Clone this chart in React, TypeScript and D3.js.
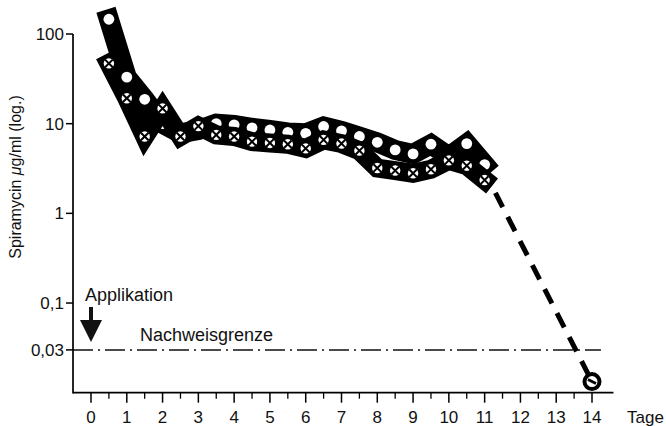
import * as d3 from 'd3';

// Sampling days (half-day steps after application)
const days = [0.5, 1, 1.5, 2, 2.5, 3, 3.5, 4, 4.5, 5, 5.5, 6, 6.5, 7, 7.5, 8, 8.5, 9, 9.5, 10, 10.5, 11];
// Spiramycin µg/ml, open circles (upper band)
const openVals = [146, 33, 18.7, 10, 7.8, 8.5, 10.0, 9.7, 9.0, 8.5, 8.0, 7.8, 9.3, 8.3, 7.2, 6.2, 5.1, 4.6, 5.9, 4.3, 6.0, 3.5];
// Spiramycin µg/ml, crossed circles (lower band)
const crossVals = [47, 19.2, 7.2, 14.8, 7.2, 9.4, 7.5, 7.2, 6.3, 6.1, 5.9, 5.3, 6.6, 6.0, 5.0, 3.2, 3.0, 2.8, 3.1, 3.9, 3.4, 2.35];
// extrapolated decline to the last measurement
const tailDays = [11.25, 14];
const tailVals = [1.85, 0.0133];

const xTicks = [0, 1, 2, 3, 4, 5, 6, 7, 8, 9, 10, 11, 12, 13, 14];
const xMinor = [0.5, 1.5, 2.5, 3.5, 4.5, 5.5, 6.5, 7.5, 8.5, 9.5, 10.5, 11.5, 12.5, 13.5];
const yTicks = [100, 10, 1, 0.1, 0.03];
const yTickLabels = ['100', '10', '1', '0,1', '0,03'];
const detectionLimit = 0.03;

const W = 666;
const H = 426;
const font = '"Liberation Sans", Arial, Helvetica, sans-serif';

export default function App() {
  const x = d3.scaleLinear().domain([0, 14]).range([91, 592]);
  const y = d3.scaleLog().domain([0.01, 100]).range([392.7, 34]);

  const axisLeft = 73;
  const axisBottom = y(0.01);
  const axisRight = x(14.6);

  const line = d3
    .line<[number, number]>()
    .x((d) => x(d[0]))
    .y((d) => y(d[1]));

  const openPts = days.map((d, i) => [d, openVals[i]] as [number, number]);
  const crossPts = days.map((d, i) => [d, crossVals[i]] as [number, number]);
  const tailPts = tailDays.map((d, i) => [d, tailVals[i]] as [number, number]);
  const last = tailPts[tailPts.length - 1];
  const cx = x(last[0]);
  const cy = y(last[1]);
  const ax = x(0);

  // the first open markers sit on top of the crossed band in the original
  const openMarker = (p: [number, number], i: number) => (
    <circle key={'o' + i} cx={x(p[0])} cy={y(p[1])} r={5.4} fill="#fff" />
  );

  return (
    <svg width={W} height={H} style={{ position: 'absolute', left: 0, top: 0, background: '#fff' }} fontFamily={font}>
      {/* detection limit */}
      <line
        x1={axisLeft}
        x2={x(14.25)}
        y1={y(detectionLimit)}
        y2={y(detectionLimit)}
        stroke="#111"
        strokeWidth={1.5}
        strokeDasharray="20 5 2 5"
      />
      <text x={140} y={340.7} fontSize={18} fill="#111">Nachweisgrenze</text>

      {/* Applikation arrow */}
      <text x={85} y={300.7} fontSize={18} fill="#111">Applikation</text>
      <rect x={ax - 2} y={307} width={4} height={14} fill="#111" />
      <path d={`M${ax - 11},320 L${ax + 11},320 L${ax},342 Z`} fill="#111" />

      {/* open circle band */}
      <path d={line(openPts) ?? ''} fill="none" stroke="#000" strokeWidth={20} strokeLinejoin="miter" strokeLinecap="square" strokeMiterlimit={3} />
      {openPts.map((p, i) => (i > 2 ? openMarker(p, i) : null))}

      {/* crossed circle band */}
      <path d={line(crossPts) ?? ''} fill="none" stroke="#000" strokeWidth={19} strokeLinejoin="miter" strokeLinecap="square" strokeMiterlimit={3} />
      {crossPts.map((p, i) => {
        const px = x(p[0]);
        const py = y(p[1]);
        const k = 3.8;
        return (
          <g key={'c' + i}>
            <circle cx={px} cy={py} r={5.2} fill="#fff" />
            <path d={`M${px - k},${py - k}L${px + k},${py + k}M${px - k},${py + k}L${px + k},${py - k}`} stroke="#000" strokeWidth={2} />
          </g>
        );
      })}
      {openPts.map((p, i) => (i <= 2 ? openMarker(p, i) : null))}

      {/* dashed decline */}
      <path d={line(tailPts) ?? ''} fill="none" stroke="#000" strokeWidth={5} strokeDasharray="16 11" strokeDashoffset={-4} />
      <circle cx={cx} cy={cy} r={7.5} fill="#fff" stroke="#000" strokeWidth={4} />
      <line x1={cx - 4} y1={cy - 2} x2={cx + 4} y2={cy + 2} stroke="#000" strokeWidth={2.8} />

      {/* y axis */}
      <line x1={axisLeft} x2={axisLeft} y1={y(100)} y2={axisBottom + 0.75} stroke="#000" strokeWidth={1.7} />
      {yTicks.map((t, i) => (
        <g key={'y' + t}>
          <line x1={axisLeft - 7} x2={axisLeft} y1={y(t)} y2={y(t)} stroke="#000" strokeWidth={1.5} />
          <text x={axisLeft - 9} y={y(t)} dy="0.35em" textAnchor="end" fontSize={17} fill="#111">
            {yTickLabels[i]}
          </text>
        </g>
      ))}
      <text transform={`translate(21,177) rotate(-90)`} textAnchor="middle" fontSize={16} fill="#111">
        Spiramycin <tspan fontStyle="italic">μ</tspan>g/ml (log.)
      </text>

      {/* x axis */}
      <line x1={axisLeft} x2={axisRight} y1={axisBottom} y2={axisBottom} stroke="#000" strokeWidth={1.7} />
      {xTicks.map((t) => (
        <g key={'x' + t}>
          <line x1={x(t)} x2={x(t)} y1={axisBottom} y2={axisBottom + 10} stroke="#000" strokeWidth={1.5} />
          <text x={x(t)} y={423} textAnchor="middle" fontSize={17} fill="#111">
            {t}
          </text>
        </g>
      ))}
      {xMinor.map((t) => (
        <line key={'m' + t} x1={x(t)} x2={x(t)} y1={axisBottom} y2={axisBottom + 6} stroke="#000" strokeWidth={1.3} />
      ))}
      <text x={627} y={423} fontSize={17} fill="#111">Tage</text>
    </svg>
  );
}
